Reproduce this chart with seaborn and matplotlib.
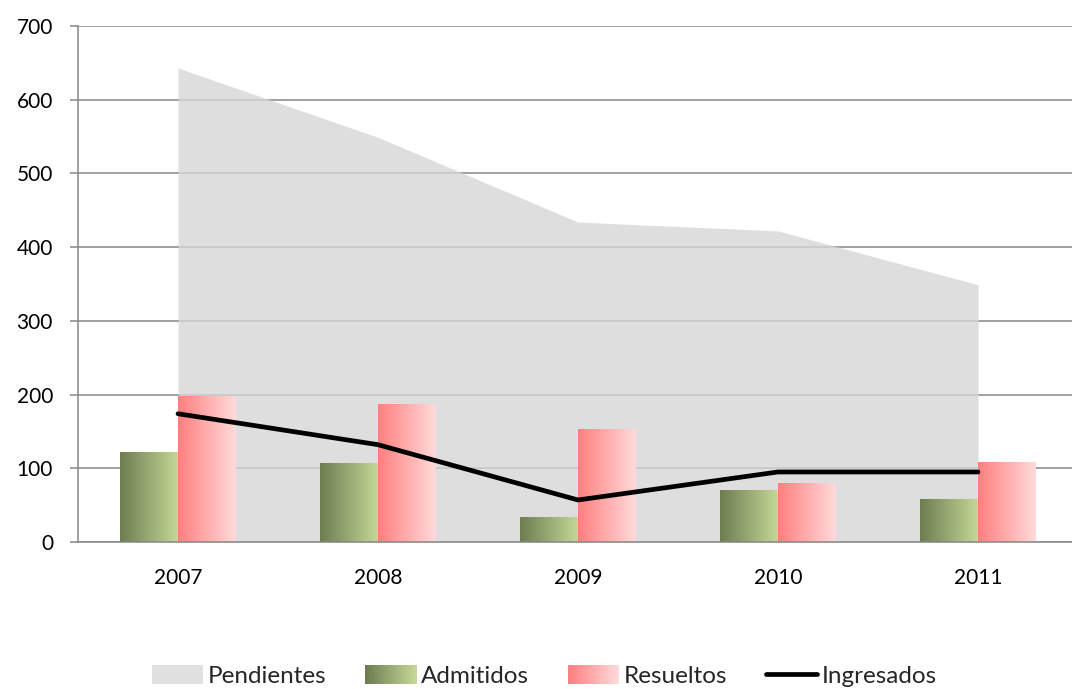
import numpy as np
import pandas as pd
import matplotlib
matplotlib.use('Agg')
import matplotlib.pyplot as plt
import seaborn as sns
from matplotlib.patches import Rectangle, Patch
from matplotlib.lines import Line2D
from matplotlib.legend_handler import HandlerBase
from matplotlib.colors import LinearSegmentedColormap
from matplotlib.ticker import FixedLocator

# ── Data ──────────────────────────────────────────────────────────────────────
years = ['2007', '2008', '2009', '2010', '2011']
pendientes = [643, 549, 434, 422, 349]
admitidos = [122, 107, 34, 71, 58]
resueltos = [198, 187, 153, 80, 108]
ingresados = [174, 132, 57, 95, 95]

sns.set_theme(style='white')
plt.rcParams['font.family'] = ['Lato', 'DejaVu Sans']

GRID = '#868686'
cmap_adm = LinearSegmentedColormap.from_list('adm', ['#6d7d50', '#c4d796'])
cmap_res = LinearSegmentedColormap.from_list('res', ['#ff7f7f', '#ffdada'])

fig = plt.figure(figsize=(10.72, 6.89), dpi=100)
ax = fig.add_axes([78/1072, (689-542)/689, 1000/1072, 516/689])

# gridlines under everything
ax.set_axisbelow(True)
ax.yaxis.grid(True, color=GRID, linewidth=1.1)
ax.xaxis.grid(False)

# Pendientes area (semi-transparent so gridlines show through lighter)
x_idx = np.arange(len(years))
ax.fill_between(x_idx, pendientes, 0, color='#d6d6d6', alpha=0.8,
                linewidth=0, zorder=1)

# Bars
df = pd.DataFrame({
    'year': years * 2,
    'value': admitidos + resueltos,
    'serie': ['Admitidos'] * 5 + ['Resueltos'] * 5,
})
sns.barplot(data=df, x='year', y='value', hue='serie', ax=ax,
            palette={'Admitidos': '#9aac73', 'Resueltos': '#ffacac'},
            width=0.58, gap=0, linewidth=0, legend=False, zorder=2)

# gradient fill clipped to each bar
grad = np.linspace(0, 1, 256).reshape(1, -1)
bars = [p for p in ax.patches if isinstance(p, Rectangle) and p.get_height() > 0]
for p in bars:
    x0, w, h = p.get_x(), p.get_width(), p.get_height()
    cm = cmap_adm if x0 + w / 2 < round(x0 + w / 2) else cmap_res
    im = ax.imshow(grad, cmap=cm, aspect='auto', extent=[x0, x0 + w, 0, h],
                   zorder=2.5, interpolation='bilinear')
    im.set_clip_path(p)

# Ingresados line
sns.lineplot(x=x_idx, y=ingresados, ax=ax, color='black', linewidth=3.4,
             zorder=3)

ax.set_xlim(-0.5, 4.5)
ax.set_ylim(0, 700)
ax.set_yticks(range(0, 701, 100))
ax.set_xticks(x_idx)
ax.set_xticklabels(years)
ax.xaxis.set_minor_locator(FixedLocator(np.arange(-0.5, 5, 1)))
ax.set_xlabel('')
ax.set_ylabel('')

for s in ['top', 'right']:
    ax.spines[s].set_visible(False)
for s in ['left', 'bottom']:
    ax.spines[s].set_color(GRID)
    ax.spines[s].set_linewidth(1.1)

ax.tick_params(axis='y', which='major', direction='out', length=6,
               width=1.1, color=GRID, pad=12, labelsize=15, labelcolor='black')
ax.tick_params(axis='x', which='major', length=0, pad=19,
               labelsize=15, labelcolor='black')
ax.tick_params(axis='x', which='minor', direction='out', length=6,
               width=1.1, color=GRID)
ax.tick_params(left=True, bottom=True)


# legend with gradient swatches
class GradientHandler(HandlerBase):
    def __init__(self, cmap):
        super().__init__()
        self.cmap = cmap

    def create_artists(self, legend, orig_handle, xdescent, ydescent,
                       width, height, fontsize, trans):
        n = 40
        arts = []
        for i in range(n):
            r = Rectangle((-xdescent + width * i / n, -ydescent), width / n + 0.3,
                          height, facecolor=self.cmap(i / (n - 1)),
                          edgecolor='none', transform=trans)
            arts.append(r)
        return arts


h_pend = Patch(facecolor='#e0e0e0', edgecolor='none')
h_adm = Patch(facecolor='#9aac73')
h_res = Patch(facecolor='#ffacac')
h_ing = Line2D([0], [0], color='black', linewidth=3.4)

fig.legend([h_pend, h_adm, h_res, h_ing],
           ['Pendientes', 'Admitidos', 'Resueltos', 'Ingresados'],
           handler_map={h_adm: GradientHandler(cmap_adm),
                        h_res: GradientHandler(cmap_res)},
           loc='center', bbox_to_anchor=(0.508, (689-676)/689),
           ncol=4, frameon=False, fontsize=17.5, handlelength=2.1,
           handleheight=0.8, handletextpad=0.2, columnspacing=1.6)

plt.savefig('out.png', dpi=100)
